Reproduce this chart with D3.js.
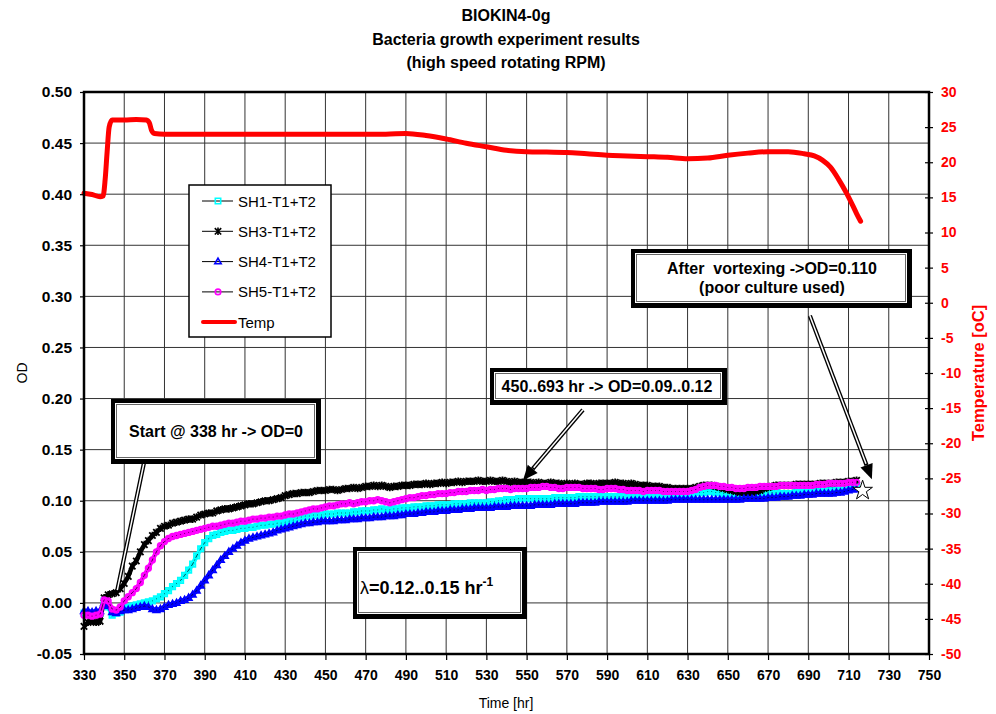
<!DOCTYPE html>
<html>
<head>
<meta charset="utf-8">
<script src="https://d3js.org/d3.v7.min.js"></script>
<style>
body { margin: 0; background: #fff; }
svg { font-family: Arial, "Liberation Sans", sans-serif; }
</style>
</head>
<body>
<svg id="chart" width="996" height="714"></svg>
<script>
// sample times of the OD readings (every 2 hr)
const hours = d3.range(330, 716, 2);

const sh1 = [
 -0.010,-0.010,-0.011,-0.010,-0.010, 0.002,-0.004,-0.012,-0.010,-0.009,
 -0.006,-0.004,-0.003,-0.002,-0.001, 0.000,0.001,0.002,0.004,0.006,
 0.009,0.012,0.016,0.019,0.022, 0.027,0.032,0.038,0.046,0.053,
 0.059,0.063,0.066,0.067,0.069, 0.070,0.071,0.071,0.072,0.073,
 0.073,0.074,0.074,0.075,0.076, 0.076,0.077,0.077,0.078,0.078,
 0.079,0.080,0.081,0.083,0.084, 0.085,0.085,0.086,0.086,0.086,
 0.087,0.087,0.087,0.088,0.088, 0.088,0.088,0.089,0.089,0.090,
 0.090,0.090,0.091,0.091,0.092, 0.091,0.091,0.092,0.092,0.093,
 0.093,0.093,0.094,0.094,0.094, 0.095,0.095,0.095,0.096,0.096,
 0.096,0.096,0.097,0.097,0.097, 0.097,0.098,0.098,0.098,0.098,
 0.098,0.099,0.099,0.100,0.100, 0.101,0.101,0.101,0.102,0.102,
 0.102,0.102,0.102,0.102,0.102, 0.102,0.102,0.103,0.103,0.103,
 0.103,0.103,0.103,0.104,0.104, 0.104,0.104,0.104,0.104,0.104,
 0.104,0.104,0.104,0.104,0.104, 0.103,0.103,0.103,0.103,0.103,
 0.103,0.103,0.103,0.104,0.104, 0.104,0.105,0.105,0.106,0.106,
 0.107,0.107,0.108,0.108,0.108, 0.109,0.109,0.108,0.108,0.107,
 0.107,0.107,0.106,0.106,0.107, 0.107,0.108,0.108,0.108,0.108,
 0.108,0.108,0.108,0.107,0.107, 0.107,0.107,0.108,0.108,0.108,
 0.108,0.108,0.109,0.109,0.109, 0.110,0.110,0.111,0.111,0.112,
 0.113,0.114,0.114];

const sh3 = [
 -0.023,-0.019,-0.018,-0.019,-0.018, 0.005,0.008,0.009,0.010,0.014,
 0.019,0.026,0.036,0.041,0.050, 0.057,0.061,0.066,0.069,0.073,
 0.075,0.076,0.078,0.079,0.080, 0.081,0.082,0.082,0.084,0.086,
 0.087,0.088,0.088,0.090,0.091, 0.092,0.092,0.093,0.094,0.095,
 0.096,0.097,0.097,0.098,0.099, 0.100,0.100,0.101,0.102,0.103,
 0.105,0.106,0.107,0.107,0.108, 0.108,0.108,0.109,0.110,0.110,
 0.110,0.111,0.111,0.110,0.111, 0.112,0.112,0.113,0.112,0.113,
 0.114,0.114,0.115,0.114,0.115, 0.114,0.113,0.114,0.114,0.115,
 0.115,0.115,0.116,0.116,0.116, 0.117,0.116,0.117,0.117,0.118,
 0.117,0.118,0.118,0.119,0.118, 0.119,0.119,0.119,0.120,0.119,
 0.119,0.120,0.119,0.119,0.120, 0.119,0.118,0.119,0.118,0.118,
 0.118,0.118,0.117,0.118,0.117, 0.117,0.118,0.117,0.117,0.116,
 0.117,0.116,0.117,0.116,0.116, 0.117,0.117,0.116,0.117,0.117,
 0.117,0.117,0.118,0.117,0.117, 0.116,0.117,0.116,0.115,0.115,
 0.115,0.114,0.114,0.114,0.113, 0.113,0.112,0.112,0.112,0.112,
 0.112,0.112,0.113,0.114,0.115, 0.115,0.115,0.114,0.113,0.112,
 0.111,0.110,0.109,0.108,0.108, 0.108,0.108,0.109,0.110,0.112,
 0.113,0.114,0.115,0.115,0.115, 0.115,0.115,0.116,0.116,0.116,
 0.116,0.116,0.116,0.117,0.117, 0.117,0.117,0.118,0.118,0.118,
 0.119,0.119,0.120];

const sh4 = [
 -0.008,-0.008,-0.009,-0.008,-0.008, 0.000,-0.003,-0.009,-0.010,-0.008,
 -0.007,-0.007,-0.006,-0.005,-0.004, -0.003,-0.004,-0.006,-0.007,-0.006,
 -0.004,-0.002,-0.001,0.000,0.002, 0.003,0.005,0.008,0.012,0.017,
 0.022,0.027,0.032,0.037,0.042, 0.046,0.050,0.053,0.056,0.059,
 0.061,0.063,0.064,0.065,0.066, 0.067,0.068,0.069,0.071,0.072,
 0.073,0.074,0.075,0.076,0.077, 0.078,0.078,0.079,0.079,0.080,
 0.080,0.080,0.080,0.081,0.081, 0.081,0.082,0.082,0.082,0.083,
 0.083,0.083,0.084,0.084,0.084, 0.085,0.085,0.085,0.086,0.086,
 0.087,0.087,0.087,0.088,0.088, 0.089,0.089,0.089,0.090,0.090,
 0.090,0.091,0.091,0.091,0.092, 0.092,0.092,0.093,0.093,0.093,
 0.093,0.093,0.094,0.094,0.094, 0.094,0.095,0.095,0.095,0.095,
 0.095,0.095,0.096,0.096,0.096, 0.096,0.096,0.097,0.097,0.097,
 0.097,0.097,0.097,0.098,0.098, 0.098,0.098,0.098,0.099,0.099,
 0.099,0.099,0.099,0.099,0.099, 0.099,0.100,0.100,0.100,0.100,
 0.100,0.100,0.100,0.100,0.100, 0.100,0.101,0.101,0.101,0.101,
 0.101,0.101,0.101,0.101,0.101, 0.101,0.101,0.101,0.101,0.101,
 0.101,0.101,0.101,0.101,0.102, 0.102,0.102,0.102,0.102,0.102,
 0.103,0.103,0.103,0.104,0.104, 0.104,0.105,0.105,0.105,0.106,
 0.106,0.106,0.107,0.107,0.107, 0.107,0.107,0.108,0.108,0.109,
 0.110,0.111,0.111];

const sh5 = [
 -0.012,-0.012,-0.013,-0.012,-0.011, 0.003,0.002,-0.006,-0.007,-0.004,
 0.002,0.006,0.010,0.014,0.020, 0.027,0.034,0.042,0.050,0.056,
 0.060,0.063,0.065,0.066,0.067, 0.068,0.069,0.070,0.071,0.072,
 0.073,0.074,0.075,0.075,0.076, 0.077,0.078,0.078,0.079,0.080,
 0.080,0.081,0.082,0.082,0.083, 0.083,0.084,0.084,0.085,0.085,
 0.086,0.087,0.087,0.088,0.089, 0.090,0.091,0.092,0.092,0.093,
 0.094,0.095,0.095,0.096,0.097, 0.097,0.098,0.097,0.098,0.099,
 0.099,0.100,0.100,0.101,0.100, 0.099,0.098,0.099,0.100,0.101,
 0.102,0.103,0.103,0.104,0.105, 0.105,0.106,0.106,0.107,0.107,
 0.107,0.108,0.108,0.109,0.109, 0.109,0.110,0.110,0.110,0.111,
 0.110,0.111,0.111,0.112,0.112, 0.112,0.111,0.112,0.112,0.112,
 0.112,0.113,0.113,0.113,0.114, 0.114,0.113,0.113,0.112,0.112,
 0.113,0.113,0.113,0.113,0.112, 0.112,0.112,0.112,0.111,0.111,
 0.112,0.112,0.112,0.111,0.111, 0.110,0.110,0.110,0.110,0.109,
 0.110,0.110,0.110,0.110,0.109, 0.109,0.109,0.109,0.109,0.109,
 0.109,0.110,0.111,0.113,0.114, 0.115,0.115,0.115,0.114,0.114,
 0.113,0.113,0.112,0.112,0.112, 0.113,0.113,0.113,0.114,0.114,
 0.114,0.114,0.114,0.115,0.115, 0.115,0.115,0.115,0.115,0.115,
 0.115,0.115,0.116,0.116,0.116, 0.117,0.117,0.117,0.117,0.117,
 0.118,0.118,0.118];

const tempHours = [330,334,338,339.5,340.5,341.5,342.5,344,350,356,361,362.5,363.5,365,370,390,420,450,480,490,
  500,510,520,530,540,550,560,570,580,590,600,610,620,630,640,650,660,670,680,688,693,697,701,705,709,712,714,716];
const tempValues = [15.6,15.4,15.1,15.2,17.5,21.5,25.0,26.0,26.0,26.1,26.0,25.6,24.6,24.1,24.0,24.0,24.0,24.0,24.0,24.1,
  23.8,23.3,22.7,22.2,21.7,21.5,21.45,21.4,21.2,21.0,20.9,20.8,20.7,20.5,20.6,21.0,21.3,21.5,21.5,21.2,20.9,20.3,19.3,17.6,15.6,13.9,12.7,11.6];

const timeTicks = [330,350,370,390,410,430,450,470,490,510,530,550,570,590,610,630,650,670,690,710,730,750];
const odTicks = [-0.05,0,0.05,0.1,0.15,0.2,0.25,0.3,0.35,0.4,0.45,0.5];
const tempTicks = [-50,-45,-40,-35,-30,-25,-20,-15,-10,-5,0,5,10,15,20,25,30];

const vortexPoint = {hour: 717, od: 0.110};

const series = [
  {name: "SH1-T1+T2", values: sh1, color: "#00ffff", marker: "square"},
  {name: "SH3-T1+T2", values: sh3, color: "#000000", marker: "asterisk"},
  {name: "SH4-T1+T2", values: sh4, color: "#0000ff", marker: "triangle"},
  {name: "SH5-T1+T2", values: sh5, color: "#ff00ff", marker: "circle"}
];

const svg = d3.select("#chart");
const x = d3.scaleLinear().domain([330, 750]).range([84, 929]);
const yOD = d3.scaleLinear().domain([-0.05, 0.5]).range([654, 92]);
const yT = d3.scaleLinear().domain([-50, 30]).range([654, 92]);
const L = 84, R = 929, T = 92, B = 654;

function markerPath(type) {
  if (type == "square") return "M-2.7,-2.7H2.7V2.7H-2.7Z";
  if (type == "asterisk") return "M-3.2,-3.2L3.2,3.2M-3.2,3.2L3.2,-3.2M0,-3.8V3.8";
  if (type == "triangle") return "M0,-3.4L3.2,2.2H-3.2Z";
  return d3.symbol(d3.symbolCircle, 24)();
}

// grid
svg.append("g").selectAll("line").data(timeTicks).join("line")
  .attr("x1", d => x(d)).attr("x2", d => x(d)).attr("y1", T).attr("y2", B)
  .attr("stroke", "#333").attr("stroke-width", 1);
svg.append("g").selectAll("line").data(odTicks).join("line")
  .attr("x1", L).attr("x2", R).attr("y1", d => yOD(d)).attr("y2", d => yOD(d))
  .attr("stroke", "#333").attr("stroke-width", 1);

// OD series
const line = d3.line().x((d, i) => x(hours[i])).y(d => yOD(d));
series.forEach(function(s) {
  const g = svg.append("g");
  g.append("path").attr("d", line(s.values))
    .attr("fill", "none").attr("stroke", s.color).attr("stroke-width", 4.5)
    .attr("stroke-linejoin", "round");
  g.append("path").attr("d", line(s.values))
    .attr("fill", "none").attr("stroke", "#000").attr("stroke-width", 0.7);
  g.selectAll("path.m").data(s.values).join("path").attr("class", "m")
    .attr("d", markerPath(s.marker))
    .attr("transform", (d, i) => "translate(" + x(hours[i]) + "," + yOD(d) + ")")
    .attr("fill", "none").attr("stroke", s.color).attr("stroke-width", 1.8);
});

// temperature
const tLine = d3.line().x((d, i) => x(tempHours[i])).y(d => yT(d)).curve(d3.curveMonotoneX);
svg.append("path").attr("d", tLine(tempValues))
  .attr("fill", "none").attr("stroke", "#ff0000").attr("stroke-width", 5)
  .attr("stroke-linejoin", "round").attr("stroke-linecap", "round");

// star after vortexing
svg.append("path").attr("d", d3.symbol(d3.symbolStar, 120)())
  .attr("transform", "translate(" + x(vortexPoint.hour) + "," + yOD(vortexPoint.od) + ")")
  .attr("fill", "#fff").attr("stroke", "#000").attr("stroke-width", 1);

// frame
svg.append("rect").attr("x", L).attr("y", T).attr("width", R - L).attr("height", B - T)
  .attr("fill", "none").attr("stroke", "#000").attr("stroke-width", 2.5);

// axes
const left = svg.append("g").attr("transform", "translate(" + L + ",0)")
  .call(d3.axisLeft(yOD).tickValues(odTicks).tickFormat(d => d.toFixed(2)).tickSize(4).tickPadding(8));
left.select(".domain").remove();
left.selectAll("text").attr("font-size", 15.5).attr("font-weight", "bold").attr("font-family", "Arial, 'Liberation Sans', sans-serif");
left.selectAll(".tick line").attr("stroke-width", 1.2);

const bottom = svg.append("g").attr("transform", "translate(0," + B + ")")
  .call(d3.axisBottom(x).tickValues(timeTicks).tickFormat(d => String(d)).tickSize(6).tickPadding(10));
bottom.select(".domain").remove();
bottom.selectAll("text").attr("font-size", 14).attr("font-weight", "bold").attr("font-family", "Arial, 'Liberation Sans', sans-serif");
bottom.selectAll(".tick line").attr("stroke-width", 1.2);

const right = svg.append("g").attr("transform", "translate(" + R + ",0)")
  .call(d3.axisRight(yT).tickValues(tempTicks).tickFormat(d => String(d)).tickSize(4).tickPadding(8));
right.select(".domain").remove();
right.selectAll(".tick line").attr("x1", -4).attr("x2", 4).attr("stroke-width", 1.2);
right.selectAll("text").attr("font-size", 14).attr("font-weight", "bold").attr("fill", "#ff0000")
  .attr("font-family", "Arial, 'Liberation Sans', sans-serif");

// titles
const titles = ["BIOKIN4-0g", "Bacteria growth experiment results", "(high speed rotating RPM)"];
svg.append("g").selectAll("text").data(titles).join("text")
  .attr("x", 506).attr("y", (d, i) => 21 + i * 23.5)
  .attr("text-anchor", "middle").attr("font-size", 16).attr("font-weight", "bold").text(d => d);

svg.append("text").attr("transform", "translate(27,373) rotate(-90)")
  .attr("text-anchor", "middle").attr("font-size", 14).text("OD");
svg.append("text").attr("x", 506).attr("y", 708)
  .attr("text-anchor", "middle").attr("font-size", 14).text("Time [hr]");
svg.append("text").attr("transform", "translate(984,373) rotate(-90)")
  .attr("text-anchor", "middle").attr("font-size", 16.5).attr("font-weight", "bold")
  .attr("fill", "#ff0000").text("Temperature [oC]");

// legend
const leg = svg.append("g").attr("transform", "translate(189,185)");
leg.append("rect").attr("width", 142).attr("height", 152).attr("fill", "#fff")
  .attr("stroke", "#000").attr("stroke-width", 1.5);
series.forEach(function(s, i) {
  const yy = 16 + i * 30.3;
  leg.append("line").attr("x1", 13).attr("x2", 44).attr("y1", yy).attr("y2", yy)
    .attr("stroke", "#000").attr("stroke-width", 1);
  leg.append("path").attr("d", markerPath(s.marker)).attr("transform", "translate(29," + yy + ")")
    .attr("fill", "none").attr("stroke", s.color).attr("stroke-width", 1.6);
  leg.append("text").attr("x", 49).attr("y", yy + 5.5).attr("font-size", 15).text(s.name);
});
leg.append("line").attr("x1", 14).attr("x2", 46).attr("y1", 137).attr("y2", 137)
  .attr("stroke", "#ff0000").attr("stroke-width", 4).attr("stroke-linecap", "round");
leg.append("text").attr("x", 49).attr("y", 142.5).attr("font-size", 15).text("Temp");

// annotation helpers
function frameBox(x0, y0, w, h) {
  const g = svg.append("g");
  g.append("rect").attr("x", x0).attr("y", y0).attr("width", w).attr("height", h).attr("fill", "#000");
  g.append("rect").attr("x", x0 + 4).attr("y", y0 + 4).attr("width", w - 9).attr("height", h - 9).attr("fill", "#fff");
  g.append("rect").attr("x", x0 + 5.5).attr("y", y0 + 5.5).attr("width", w - 12).attr("height", h - 12)
    .attr("fill", "none").attr("stroke", "#666").attr("stroke-width", 1);
  return g;
}
function doubleArrow(x1, y1, x2, y2, head) {
  const g = svg.append("g");
  const a = Math.atan2(y2 - y1, x2 - x1);
  const hl = head ? 15 : 0;
  const ex = x2 - hl * Math.cos(a), ey = y2 - hl * Math.sin(a);
  g.append("line").attr("x1", x1).attr("y1", y1).attr("x2", ex).attr("y2", ey)
    .attr("stroke", "#000").attr("stroke-width", 4.2);
  g.append("line").attr("x1", x1).attr("y1", y1).attr("x2", ex - 1.5 * Math.cos(a)).attr("y2", ey - 1.5 * Math.sin(a))
    .attr("stroke", "#fff").attr("stroke-width", 1.5);
  if (head) {
    const px = Math.cos(a + Math.PI / 2) * 6.5, py = Math.sin(a + Math.PI / 2) * 6.5;
    g.append("path").attr("d", "M" + x2 + "," + y2 + "L" + (ex + px) + "," + (ey + py) + "L" + (ex - px) + "," + (ey - py) + "Z")
      .attr("fill", "#000");
  }
}

// start annotation
doubleArrow(x(359.8), yOD(0.137), x(346.4), yOD(0.011), false);
frameBox(111, 399, 210, 65);
svg.append("text").attr("x", 216).attr("y", 437).attr("text-anchor", "middle")
  .attr("font-size", 16).attr("font-weight", "bold").text("Start @ 338 hr -> OD=0");

// plateau annotation
doubleArrow(x(578), yOD(0.189), x(548.2), yOD(0.120), true);
frameBox(490, 368, 237, 37);
svg.append("text").attr("x", 607).attr("y", 392).attr("text-anchor", "middle")
  .attr("font-size", 16).attr("font-weight", "bold").text("450..693 hr -> OD=0.09..0.12");

// vortex annotation
doubleArrow(x(690.8), yOD(0.281), x(721.6), yOD(0.121), true);
frameBox(631, 249, 281, 59);
svg.append("text").attr("x", 772).attr("y", 274).attr("text-anchor", "middle").attr("xml:space", "preserve")
  .attr("font-size", 16).attr("font-weight", "bold").text("After  vortexing ->OD=0.110");
svg.append("text").attr("x", 772).attr("y", 293).attr("text-anchor", "middle")
  .attr("font-size", 16).attr("font-weight", "bold").text("(poor culture used)");

// growth rate box
frameBox(353, 547, 174, 72);
const lam = svg.append("text").attr("x", 360).attr("y", 594).attr("font-size", 18).attr("font-weight", "bold");
lam.append("tspan").attr("font-weight", "normal").text("λ");
lam.append("tspan").text("=0.12..0.15 hr");
lam.append("tspan").attr("dy", -8).attr("font-size", 12).text("-1");
</script>
</body>
</html>
